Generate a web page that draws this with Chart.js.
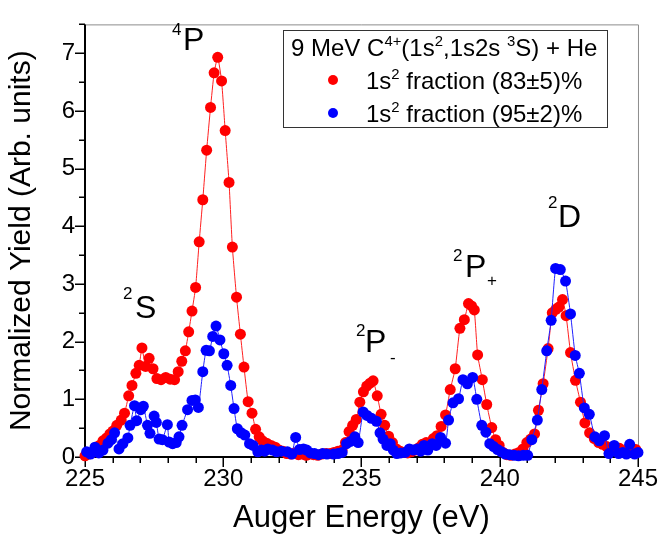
<!DOCTYPE html>
<html>
<head>
<meta charset="utf-8">
<script src="https://cdn.jsdelivr.net/npm/chart.js@4.4.1/dist/chart.umd.min.js"></script>
<style>
  html, body { margin: 0; padding: 0; background: #fff; }
  #wrap { position: relative; width: 666px; height: 541px; font-family: "Liberation Sans", Arial, sans-serif; color: #000; }
  #chart { position: absolute; left: 0; top: 0; }
  .lbl { position: absolute; white-space: nowrap; line-height: 1; }
  .sup { font-size: 0.62em; position: relative; top: -0.62em; }
  #legendBox { position: absolute; left: 283px; top: 30px; width: 323px; height: 96px; border: 1px solid #333; }
  .dot { position: absolute; width: 10px; height: 10px; border-radius: 50%; }
</style>
</head>
<body>
<div id="wrap">
  <canvas id="chart" width="666" height="541"></canvas>
  <div id="legendBox"></div>
</div>
<script>
// --- data ---
const redEnergy = [
  225.00, 225.13, 225.27, 225.40, 225.52, 225.65, 225.78, 225.90, 226.01, 226.15,
  226.31, 226.43, 226.58, 226.70, 226.84, 226.96, 227.06, 227.19, 227.32, 227.46,
  227.60, 227.75, 227.92, 228.08, 228.24, 228.37, 228.50, 228.63, 228.75, 228.87,
  229.00, 229.13, 229.26, 229.40, 229.54, 229.67, 229.80, 229.94, 230.07, 230.21,
  230.33, 230.48, 230.62, 230.75, 230.90, 231.04, 231.17, 231.30, 231.42, 231.57,
  231.73, 231.88, 232.02, 232.16, 232.30, 232.45, 232.58, 232.72, 232.86, 233.00,
  233.13, 233.27, 233.42, 233.56, 233.72, 233.87, 234.00, 234.15, 234.30, 234.42,
  234.55, 234.68, 234.81, 234.94, 235.07, 235.19, 235.31, 235.42, 235.57, 235.71,
  235.84, 235.98, 236.12, 236.26, 236.40, 236.53, 236.67, 236.80, 236.94, 237.07,
  237.20, 237.34, 237.47, 237.60, 237.73, 237.88, 238.04, 238.21, 238.39, 238.56,
  238.72, 238.87, 238.98, 239.08, 239.20, 239.37, 239.53, 239.71, 239.85, 239.98,
  240.12, 240.26, 240.40, 240.55, 240.70, 240.84, 240.98, 241.12, 241.26, 241.40,
  241.57, 241.75, 241.90, 242.03, 242.14, 242.27, 242.40, 242.56, 242.74, 242.92,
  243.08, 243.25, 243.42, 243.58, 243.72, 243.87, 244.02, 244.18, 244.33, 244.48,
  244.63, 244.78, 244.92
];
const redYield = [
  0.02, 0.05, 0.08, 0.12, 0.20, 0.28, 0.33, 0.40, 0.45, 0.55,
  0.64, 0.76, 1.06, 1.24, 1.45, 1.59, 1.89, 1.57, 1.71, 1.53,
  1.36, 1.34, 1.38, 1.35, 1.34, 1.48, 1.66, 1.84, 2.17, 2.53,
  2.94, 3.73, 4.46, 5.32, 6.06, 6.66, 6.93, 6.52, 5.66, 4.76,
  3.64, 2.77, 2.13, 1.56, 0.96, 0.76, 0.48, 0.35, 0.28, 0.24,
  0.20, 0.17, 0.12, 0.10, 0.06, 0.05, 0.07, 0.04, 0.05, 0.03,
  0.05, 0.04, 0.03, 0.05, 0.06, 0.06, 0.08, 0.10, 0.12, 0.25,
  0.44, 0.55, 0.65, 0.95, 1.13, 1.23, 1.28, 1.32, 1.06, 0.74,
  0.55, 0.36, 0.25, 0.14, 0.10, 0.08, 0.07, 0.09, 0.12, 0.16,
  0.22, 0.25, 0.24, 0.32, 0.37, 0.53, 0.73, 1.17, 1.53, 2.23,
  2.38, 2.66, 2.62, 2.55, 1.77, 1.34, 0.91, 0.51, 0.30, 0.20,
  0.08, 0.04, 0.03, 0.05, 0.08, 0.14, 0.25, 0.31, 0.40, 0.81,
  1.27, 1.88, 2.50, 2.56, 2.60, 2.73, 2.45, 1.81, 1.33, 0.95,
  0.59, 0.42, 0.32, 0.25, 0.22, 0.18, 0.14, 0.12, 0.15, 0.10,
  0.13, 0.10, 0.13
];
const blueEnergy = [
  225.06, 225.20, 225.36, 225.50, 225.65, 225.83, 225.95, 226.07, 226.23, 226.37,
  226.55, 226.63, 226.79, 226.87, 227.02, 227.11, 227.26, 227.35, 227.50, 227.58,
  227.68, 227.80, 227.98, 228.04, 228.17, 228.30, 228.40, 228.51, 228.71, 228.87,
  228.99, 229.10, 229.26, 229.38, 229.50, 229.62, 229.74, 229.88, 230.02, 230.14,
  230.27, 230.39, 230.51, 230.65, 230.78, 230.95, 231.08, 231.25, 231.38, 231.50,
  231.61, 231.78, 231.93, 232.10, 232.32, 232.48, 232.62, 232.76, 232.90, 233.02,
  233.15, 233.30, 233.45, 233.60, 233.75, 233.99, 234.15, 234.30, 234.46, 234.60,
  234.76, 234.88, 235.06, 235.20, 235.36, 235.54, 235.67, 235.78, 235.92, 236.04,
  236.15, 236.28, 236.42, 236.58, 236.73, 236.88, 237.02, 237.14, 237.26, 237.40,
  237.56, 237.70, 237.86, 238.04, 238.15, 238.31, 238.51, 238.67, 238.83, 239.02,
  239.17, 239.35, 239.50, 239.64, 239.78, 239.92, 240.06, 240.20, 240.35, 240.52,
  240.68, 240.85, 241.01, 241.16, 241.36, 241.52, 241.70, 241.86, 242.02, 242.19,
  242.38, 242.56, 242.73, 242.88, 243.06, 243.24, 243.44, 243.60, 243.79, 243.95,
  244.14, 244.30, 244.45, 244.58, 244.70, 244.88, 245.00
];
const blueYield = [
  0.09, 0.05, 0.17, 0.07, 0.12, 0.24, 0.30, 0.42, 0.14, 0.23,
  0.33, 0.55, 0.89, 0.63, 0.82, 0.88, 0.55, 0.41, 0.71, 0.60,
  0.31, 0.30, 0.56, 0.26, 0.23, 0.25, 0.35, 0.55, 0.82, 0.98,
  0.99, 0.86, 1.48, 1.85, 1.84, 2.09, 2.27, 2.03, 1.79, 1.59,
  1.24, 0.84, 0.49, 0.42, 0.38, 0.23, 0.20, 0.09, 0.12, 0.10,
  0.14, 0.12, 0.09, 0.10, 0.09, 0.05, 0.34, 0.13, 0.14, 0.12,
  0.07, 0.06, 0.04, 0.06, 0.05, 0.05, 0.06, 0.08, 0.23, 0.27,
  0.35, 0.25, 0.78, 0.72, 0.67, 0.62, 0.42, 0.31, 0.20, 0.23,
  0.12, 0.06, 0.07, 0.08, 0.14, 0.12, 0.14, 0.10, 0.20, 0.12,
  0.23, 0.20, 0.34, 0.24, 0.64, 0.94, 1.01, 1.34, 1.27, 1.38,
  1.00, 0.55, 0.43, 0.23, 0.18, 0.13, 0.09, 0.05, 0.04, 0.03,
  0.02, 0.03, 0.03, 0.30, 0.64, 1.17, 1.84, 2.37, 3.27, 3.25,
  3.05, 2.48, 1.76, 1.45, 0.85, 0.74, 0.35, 0.28, 0.37, 0.06,
  0.20, 0.06, 0.08, 0.05, 0.22, 0.05, 0.08
];
const xTickValues = [225, 230, 235, 240, 245];
const yTickValues = [0, 1, 2, 3, 4, 5, 6, 7];

const FONT = '"Liberation Sans", Arial, sans-serif';

// frame: black left/bottom axes, grey top/right, major + minor ticks
const axisFrame = {
  id: 'axisFrame',
  beforeDatasetsDraw(chart) {
    const { ctx, chartArea: a, scales: { x, y } } = chart;
    ctx.save();
    ctx.strokeStyle = '#8c8c8c';
    ctx.lineWidth = 1;
    ctx.beginPath();
    ctx.moveTo(a.left, a.top + 0.5);
    ctx.lineTo(a.right + 0.5, a.top + 0.5);
    ctx.lineTo(a.right + 0.5, a.bottom);
    ctx.stroke();

    ctx.strokeStyle = '#000';
    ctx.lineWidth = 2;
    ctx.beginPath();
    ctx.moveTo(a.left, a.top);
    ctx.lineTo(a.left, a.bottom);
    ctx.lineTo(a.right + 1, a.bottom);
    ctx.stroke();

    ctx.lineWidth = 1.5;
    ctx.beginPath();
    for (let v = x.min; v <= x.max; v += 1) {
      const px = Math.round(x.getPixelForValue(v)) + 0.25;
      const len = v % 5 === 0 ? 10 : 6;
      ctx.moveTo(px, a.bottom);
      ctx.lineTo(px, a.bottom + len);
    }
    for (let v = y.min; v <= y.max + 1e-9; v += 0.5) {
      const py = Math.round(y.getPixelForValue(v)) + 0.25;
      const len = Number.isInteger(v) ? 10 : 6;
      ctx.moveTo(a.left - len, py);
      ctx.lineTo(a.left, py);
    }
    ctx.stroke();
    ctx.restore();
  }
};

const toPoints = (xs, ys) => xs.map((e, i) => ({ x: e, y: ys[i] }));

new Chart(document.getElementById('chart'), {
  type: 'scatter',
  data: {
    datasets: [
      {
        label: '1s2 fraction (83±5)%',
        data: toPoints(redEnergy, redYield),
        showLine: true,
        borderColor: '#ff2020',
        borderWidth: 1,
        backgroundColor: '#ff0000',
        pointBackgroundColor: '#ff0000',
        pointBorderWidth: 0,
        pointRadius: 5.5,
        tension: 0.15,
        clip: false,
        order: 2
      },
      {
        label: '1s2 fraction (95±2)%',
        data: toPoints(blueEnergy, blueYield),
        showLine: true,
        borderColor: '#2020ff',
        borderWidth: 1,
        backgroundColor: '#0000ff',
        pointBackgroundColor: '#0000ff',
        pointBorderWidth: 0,
        pointRadius: 5.5,
        tension: 0.15,
        clip: false,
        order: 1
      }
    ]
  },
  options: {
    responsive: false,
    animation: false,
    devicePixelRatio: 1,
    layout: { padding: { top: 7, right: 21, left: 0, bottom: 0 } },
    plugins: { legend: { display: false }, tooltip: { enabled: false } },
    scales: {
      x: {
        type: 'linear',
        min: 225,
        max: 245,
        afterBuildTicks: s => { s.ticks = xTickValues.map(v => ({ value: v })); },
        afterFit: s => { s.height = 84; },
        grid: { display: false, drawTicks: false },
        border: { display: false },
        ticks: { color: '#000', padding: 8, maxRotation: 0, font: { family: FONT, size: 24 } },
        title: {
          display: true,
          text: 'Auger Energy (eV)',
          color: '#000',
          font: { family: FONT, size: 31 },
          padding: { top: 0, bottom: 4 }
        }
      },
      y: {
        type: 'linear',
        min: 0,
        max: 7.5,
        afterBuildTicks: s => { s.ticks = yTickValues.map(v => ({ value: v })); },
        afterFit: s => { s.width = 85; },
        grid: { display: false, drawTicks: false },
        border: { display: false },
        ticks: { color: '#000', padding: 10, font: { family: FONT, size: 24 } },
        title: {
          display: true,
          text: 'Normalized Yield (Arb. units)',
          color: '#000',
          font: { family: FONT, size: 30 },
          padding: { top: 4, bottom: 0 }
        }
      }
    }
  },
  plugins: [axisFrame]
});

// --- text overlays: peak labels and legend ---
const wrap = document.getElementById('wrap');
function place(html, x, baseline, size) {
  const d = document.createElement('div');
  d.className = 'lbl';
  d.style.left = x + 'px';
  d.style.top = (baseline - 0.848 * size) + 'px';
  d.style.fontSize = size + 'px';
  d.innerHTML = html;
  wrap.appendChild(d);
}
function dot(color, cx, cy) {
  const d = document.createElement('div');
  d.className = 'dot';
  d.style.background = color;
  d.style.left = (cx - 5) + 'px';
  d.style.top = (cy - 5) + 'px';
  wrap.appendChild(d);
}

// peak labels
place('4', 172, 35, 17);  place('P', 183, 50, 32);
place('2', 123, 299, 17); place('S', 135, 318, 32);
place('2', 356, 336, 17); place('P', 365, 352, 32); place('-', 390, 363, 17);
place('2', 453, 261, 17); place('P', 465, 277, 32); place('+', 487, 286, 17);
place('2', 548, 208, 17); place('D', 558, 227, 32);

// legend
place('9 MeV C<span class="sup">4+</span>(1s<span class="sup">2</span>,1s2s <span class="sup">3</span>S) + He', 291, 56, 24);
dot('#ff0000', 333, 80);
place('1s<span class="sup">2</span> fraction (83±5)%', 366, 89, 24);
dot('#0000ff', 333, 113);
place('1s<span class="sup">2</span> fraction (95±2)%', 366, 122, 24);
</script>
</body>
</html>
